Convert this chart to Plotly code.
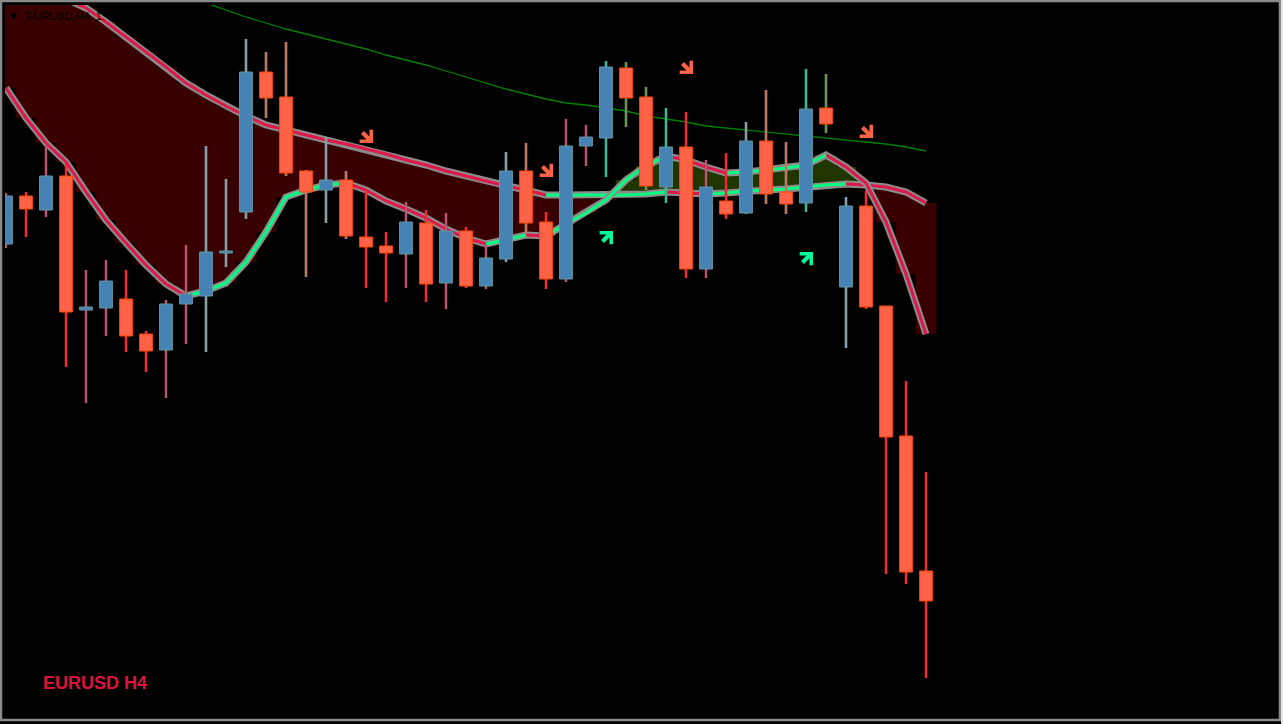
import plotly.graph_objects as go

# ---------------- data (EURUSD H4) ----------------
bar_index = list(range(47))

open_p = [1.0756, 1.0804, 1.0790, 1.0824, 1.0690, 1.0692, 1.0701, 1.0666, 1.0650, 1.0696,
          1.0704, 1.0747, 1.0788, 1.0928, 1.0903, 1.0829, 1.0810, 1.0820, 1.0763, 1.0754,
          1.0746, 1.0777, 1.0717, 1.0769, 1.0714, 1.0741, 1.0829, 1.0778, 1.0721, 1.0854,
          1.0862, 1.0932, 1.0903, 1.0813, 1.0853, 1.0731, 1.0799, 1.0787, 1.0859, 1.0808,
          1.0797, 1.0892, 1.0713, 1.0794, 1.0694, 1.0564, 1.0429]
high_p = [1.0807, 1.0808, 1.0854, 1.0837, 1.0730, 1.0740, 1.0730, 1.0669, 1.0700, 1.0755,
          1.0854, 1.0821, 1.0961, 1.0948, 1.0958, 1.0830, 1.0863, 1.0829, 1.0811, 1.0768,
          1.0798, 1.0790, 1.0787, 1.0773, 1.0755, 1.0848, 1.0857, 1.0788, 1.0881, 1.0875,
          1.0939, 1.0938, 1.0913, 1.0892, 1.0888, 1.0840, 1.0847, 1.0878, 1.0910, 1.0858,
          1.0931, 1.0926, 1.0803, 1.0809, 1.0694, 1.0619, 1.0528]
low_p = [1.0752, 1.0763, 1.0783, 1.0633, 1.0597, 1.0664, 1.0648, 1.0628, 1.0602, 1.0656,
         1.0648, 1.0733, 1.0781, 1.0882, 1.0824, 1.0723, 1.0777, 1.0761, 1.0712, 1.0698,
         1.0712, 1.0698, 1.0691, 1.0712, 1.0711, 1.0738, 1.0767, 1.0711, 1.0718, 1.0834,
         1.0823, 1.0873, 1.0810, 1.0797, 1.0722, 1.0722, 1.0781, 1.0786, 1.0796, 1.0786,
         1.0788, 1.0867, 1.0652, 1.0691, 1.0426, 1.0416, 1.0322]
close_p = [1.0804, 1.0791, 1.0824, 1.0688, 1.0693, 1.0719, 1.0664, 1.0649, 1.0696, 1.0706,
           1.0748, 1.0749, 1.0928, 1.0902, 1.0827, 1.0808, 1.0820, 1.0764, 1.0753, 1.0747,
           1.0778, 1.0716, 1.0769, 1.0714, 1.0742, 1.0829, 1.0777, 1.0721, 1.0854, 1.0863,
           1.0933, 1.0902, 1.0814, 1.0853, 1.0731, 1.0813, 1.0786, 1.0859, 1.0806, 1.0796,
           1.0891, 1.0876, 1.0794, 1.0693, 1.0563, 1.0428, 1.0399]

# bar-colouring indicator state per candle
wick_state = ["dn", "dn", "dn", "dn", "dn", "dn", "dn", "dn", "dn", "dn",
              "flat", "flat", "flat", "flat", "flat", "flat", "flat", "flat", "dn", "dn",
              "dn", "dn", "dn", "dn", "dn", "flat", "flat", "dn", "dn", "dn",
              "up", "up", "up", "up", "dn", "dn", "dn", "flat", "flat", "flat",
              "up", "up", "flat", "dn", "dn", "dn", "dn"]

# two-line band indicator
fast_line = [1.1040, 1.1025, 1.1012, 1.1001, 1.0992, 1.0978, 1.0963, 1.0948, 1.0933, 1.0917,
             1.0905, 1.0894, 1.0884, 1.0875, 1.0870, 1.0865, 1.0860, 1.0856, 1.0851, 1.0846,
             1.0840, 1.0835, 1.0829, 1.0824, 1.0819, 1.0814, 1.0810, 1.0805, 1.0805, 1.0805,
             1.0805, 1.0805, 1.0806, 1.0808, 1.0807, 1.0806, 1.0807, 1.0809, 1.0810, 1.0811,
             1.0813, 1.0815, 1.0816, 1.0815, 1.0813, 1.0808, 1.0797]
slow_line = [1.0912, 1.0882, 1.0857, 1.0838, 1.0808, 1.0780, 1.0757, 1.0735, 1.0716, 1.0704,
             1.0709, 1.0717, 1.0738, 1.0768, 1.0803, 1.0810, 1.0815, 1.0817, 1.0810, 1.0799,
             1.0791, 1.0782, 1.0771, 1.0762, 1.0756, 1.0760, 1.0765, 1.0764, 1.0776, 1.0787,
             1.0800, 1.0820, 1.0834, 1.0844, 1.0840, 1.0833, 1.0827, 1.0828, 1.0830, 1.0832,
             1.0835, 1.0845, 1.0833, 1.0817, 1.0778, 1.0726, 1.0666]

# slow moving average (starts at bar 9)
ma_bars = list(range(9, 47))
ma_values = [1.1004, 1.0997, 1.0990, 1.0983, 1.0977, 1.0971, 1.0966, 1.0961, 1.0956, 1.0951,
             1.0945, 1.0940, 1.0935, 1.0929, 1.0923, 1.0917, 1.0911, 1.0906, 1.0901, 1.0897,
             1.0895, 1.0892, 1.0889, 1.0884, 1.0881, 1.0878, 1.0874, 1.0872, 1.0870, 1.0868,
             1.0866, 1.0864, 1.0862, 1.0860, 1.0858, 1.0856, 1.0853, 1.0849]

# signal arrows
sell_bars = [18, 27, 34, 43]
sell_prices = [1.0864, 1.0830, 1.0933, 1.0869]
buy_bars = [30, 40]
buy_prices = [1.0762, 1.0741]

symbol_label = "EURUSD H4"
header_label = "EURUSD,H4"

# ---------------- styles ----------------
BG = "#000000"
BULL_FILL, BULL_EDGE, BULL_WICK = "#4682B4", "#6496A6", "#7FA4B2"
BEAR_FILL, BEAR_EDGE, BEAR_WICK = "#FF6347", "#FF4500", "#FF4A1A"
STATE_COL = {"dn": "#DC143C", "flat": "#8C9C9E", "up": "#10C080"}
LINE_UP, LINE_DN, LINE_EDGE = "#00FF7F", "#E0174A", "#8C8C8C"
FILL_RED, FILL_GREEN = "#380000", "#213500"
MA_COL = "#008000"

W, H = 1283, 724
PL, PR, PT, PB = 5, 1278, 5, 717
PX_PER_BAR = 20.0
x0 = -0.05
x1 = x0 + (PR - PL) / PX_PER_BAR
y_top = 1.0 + (1000 - PT) / 10000.0
y_bot = 1.0 + (1000 - PB) / 10000.0

fig = go.Figure()

# ---- histogram fill between the two lines ----
rx, rb, rh, gx, gb, gh = [], [], [], [], [], []
for i in bar_index:
    a, b = fast_line[i], slow_line[i]
    if a >= b:
        rx.append(i); rb.append(b); rh.append(a - b)
    else:
        gx.append(i); gb.append(a); gh.append(b - a)
fig.add_trace(go.Bar(x=rx, y=rh, base=rb, width=1.04,
                     marker=dict(color=FILL_RED, line=dict(width=0)), hoverinfo="skip"))
fig.add_trace(go.Bar(x=gx, y=gh, base=gb, width=1.04,
                     marker=dict(color=FILL_GREEN, line=dict(width=0)), hoverinfo="skip"))

# ---- moving average ----
fig.add_trace(go.Scatter(x=ma_bars, y=ma_values, mode="lines",
                         line=dict(color=MA_COL, width=1.3), hoverinfo="skip"))


# ---- two coloured band lines ----
def colour_runs(values):
    segs = {"up": ([], []), "dn": ([], [])}
    cur = None
    for i in range(1, len(values)):
        st = "up" if values[i] >= values[i - 1] else "dn"
        xs, ys = segs[st]
        if st != cur:
            if xs:
                xs.append(None); ys.append(None)
            xs.append(bar_index[i - 1]); ys.append(values[i - 1])
            cur = st
        xs.append(bar_index[i]); ys.append(values[i])
    return segs


for vals in (fast_line, slow_line):
    fig.add_trace(go.Scatter(x=bar_index, y=vals, mode="lines",
                             line=dict(color=LINE_EDGE, width=7), hoverinfo="skip"))
    runs = colour_runs(vals)
    for st, col in (("dn", LINE_DN), ("up", LINE_UP)):
        xs, ys = runs[st]
        fig.add_trace(go.Scatter(x=xs, y=ys, mode="lines", connectgaps=False,
                                 line=dict(color=col, width=3), hoverinfo="skip"))

# ---- wicks ----
for st, col in STATE_COL.items():
    xs, ys = [], []
    for i in bar_index:
        if wick_state[i] == st:
            xs += [i, i, None]; ys += [high_p[i], low_p[i], None]
    fig.add_trace(go.Scatter(x=xs, y=ys, mode="lines", line=dict(color=col, width=2.6),
                             hoverinfo="skip"))
for bull, col in ((True, BULL_WICK), (False, BEAR_WICK)):
    xs, ys = [], []
    for i in bar_index:
        if (close_p[i] >= open_p[i]) == bull:
            xs += [i, i, None]; ys += [high_p[i], low_p[i], None]
    fig.add_trace(go.Scatter(x=xs, y=ys, mode="lines", line=dict(color=col, width=1),
                             hoverinfo="skip"))

# ---- bodies ----
HALF = 0.32
for bull, fc, ec in ((True, BULL_FILL, BULL_EDGE), (False, BEAR_FILL, BEAR_EDGE)):
    xs, ys = [], []
    for i in bar_index:
        if (close_p[i] >= open_p[i]) == bull:
            o, c = open_p[i], close_p[i]
            if abs(o - c) < 0.00015:
                mid = (o + c) / 2
                o, c = mid - 0.00012, mid + 0.00012
            xs += [i - HALF, i + HALF, i + HALF, i - HALF, i - HALF, None]
            ys += [o, o, c, c, o, None]
    fig.add_trace(go.Scatter(x=xs, y=ys, mode="lines", fill="toself", fillcolor=fc,
                             line=dict(color=ec, width=1), hoverinfo="skip"))

# ---- arrows ----
annotations = []
for i, p in zip(sell_bars, sell_prices):
    annotations.append(dict(x=i, y=p, xref="x", yref="y", text="", showarrow=True,
                            arrowhead=4, arrowsize=0.75, arrowwidth=4.2, arrowcolor="#FF6347",
                            ax=-12, ay=-12, xshift=7, yshift=-7))
for i, p in zip(buy_bars, buy_prices):
    annotations.append(dict(x=i, y=p, xref="x", yref="y", text="", showarrow=True,
                            arrowhead=4, arrowsize=0.75, arrowwidth=4.2, arrowcolor="#00FA9A",
                            ax=-12, ay=12, xshift=7, yshift=7))

annotations.append(dict(x=41 / W, y=1 - 683 / H, xref="paper", yref="paper",
                        text="<b>" + symbol_label + "</b>", showarrow=False,
                        xanchor="left", yanchor="middle",
                        font=dict(family="Liberation Sans, Arial", size=18, color="#DC143C")))
annotations.append(dict(x=8 / W, y=1 - 16 / H, xref="paper", yref="paper",
                        text="▼", showarrow=False, xanchor="left", yanchor="middle",
                        font=dict(family="DejaVu Sans", size=9, color="#000000")))
annotations.append(dict(x=24 / W, y=1 - 16 / H, xref="paper", yref="paper",
                        text=header_label + "  1.", showarrow=False,
                        xanchor="left", yanchor="middle",
                        font=dict(family="Liberation Sans, Arial", size=11, color="#000000")))

shapes = [
    dict(type="rect", xref="paper", yref="paper", x0=1 / W, x1=1280 / W,
         y0=1 - 720 / H, y1=1 - 1 / H, line=dict(color="#8A8A8A", width=2.5)),
    dict(type="line", xref="paper", yref="paper", x0=1282 / W, x1=1282 / W,
         y0=0, y1=1, line=dict(color="#E6E6E6", width=2)),
]

fig.update_layout(
    width=W, height=H,
    margin=dict(l=0, r=0, t=0, b=0),
    paper_bgcolor=BG, plot_bgcolor=BG,
    showlegend=False, hovermode=False, barmode="overlay",
    xaxis=dict(domain=[PL / W, PR / W], range=[x0, x1], visible=False,
               showgrid=False, zeroline=False, fixedrange=True),
    yaxis=dict(domain=[1 - PB / H, 1 - PT / H], range=[y_bot, y_top], visible=False,
               showgrid=False, zeroline=False, fixedrange=True),
    annotations=annotations,
    shapes=shapes,
)

fig.write_html("out.html", config={"displayModeBar": False},
               post_script="document.body.style.margin='0';document.body.style.overflow='hidden';")
